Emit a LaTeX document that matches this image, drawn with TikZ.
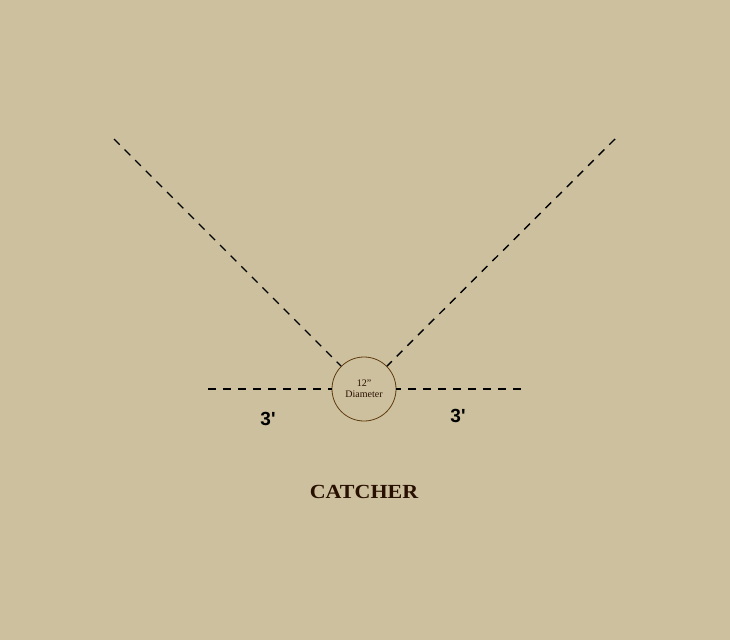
\documentclass[tikz,border=0pt]{standalone}
\usepackage{fontspec}
\setmainfont{Liberation Serif}
\newfontfamily\sansb{Liberation Sans}
\definecolor{bg}{RGB}{205,192,158}
\definecolor{ring}{RGB}{95,60,15}
\definecolor{darkbrown}{RGB}{40,15,0}
\begin{document}
\begin{tikzpicture}[x=1pt,y=-1pt,
  guide/.style={line width=1.4pt,dash pattern=on 8pt off 7pt,black},
  dimlabel/.style={font=\sansb\bfseries\fontsize{19}{19}\selectfont,text=black},
  ringnode/.style={circle,draw=ring,line width=0.8pt,minimum size=64pt,inner sep=0pt,align=center,font=\fontsize{10}{11}\selectfont,text=darkbrown}]
\fill[bg] (0,0) rectangle (730,640);
\useasboundingbox (0,0) rectangle (730,640);
\node[ringnode] (ball) at (364,389) {12"\\Diameter};
\coordinate (tl) at (114,139);
\coordinate (tr) at (615,139);
\coordinate (hl) at (208,389);
\coordinate (hr) at (521,389);
\draw[guide] (tl) -- (ball.135);
\draw[guide] (tr) -- (ball.45);
\draw[guide] (hl) -- (ball.180);
\draw[guide] (hr) -- (ball.0);
\node[dimlabel] (dl) at (268,419) {3'};
\node[dimlabel] (dr) at (458,416) {3'};
\node[font=\bfseries\fontsize{20}{20}\selectfont,text=darkbrown,xscale=1.1] (c) at (364,492) {CATCHER};
\end{tikzpicture}
\end{document}
